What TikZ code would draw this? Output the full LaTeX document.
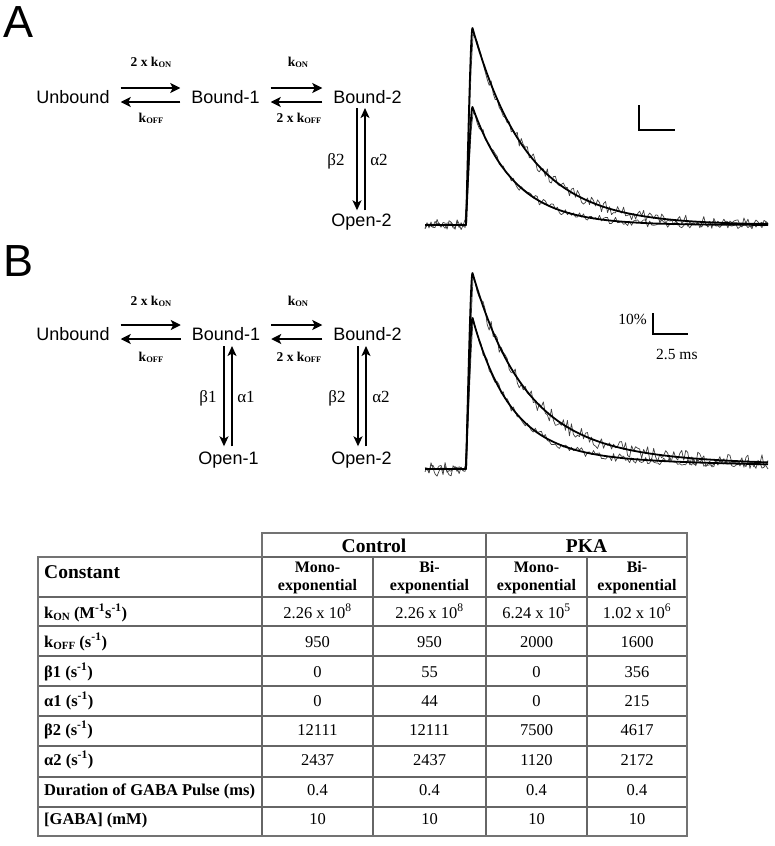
\documentclass[tikz,border=0pt]{standalone}
\usepackage{fontspec}
\setmainfont{Liberation Serif}
\newfontfamily\sansf{Liberation Sans}
\usetikzlibrary{arrows.meta,calc}
\newcommand\KsubON{k\raisebox{-1.5pt}{\fontsize{8.5}{8.5}\selectfont ON}}
\newcommand\KsubOFF{k\raisebox{-1.5pt}{\fontsize{8.5}{8.5}\selectfont OFF}}
\newcommand\TkON{k\raisebox{-2pt}{\fontsize{11}{11}\selectfont ON}}
\newcommand\TkOFF{k\raisebox{-2pt}{\fontsize{11}{11}\selectfont OFF}}
\newcommand\sinv{(s\textsuperscript{-1})}
\begin{document}
\begin{tikzpicture}[x=1pt,y=-1pt,
  declare function={
    shA(\x,\t)=ifthenelse(\x<466,0,ifthenelse(\x<472.5,(\x-466)/6.5,exp(-(\x-472.5)/\t)));
    shB(\x,\t)=ifthenelse(\x<466,0,ifthenelse(\x<472.5,(\x-466)/6.5,0.9*exp(-(\x-472.5)/\t)+0.1*exp(-(\x-472.5)/250)));
  },
  state/.style={font=\sansf\fontsize{18}{18}\selectfont,inner sep=0pt,text height=13pt,text depth=0pt,anchor=base},
  rate/.style={font=\bfseries\fontsize{13.5}{13.5}\selectfont,inner sep=0pt,anchor=base},
  greek/.style={font=\fontsize{17}{17}\selectfont,inner sep=0pt,anchor=base},
  panel/.style={font=\sansf\fontsize{45}{45}\selectfont,inner sep=0pt,anchor=base west},
  harr/.style={line width=1.8pt,-{Stealth[length=10pt,width=10pt,inset=2.5pt]},shorten <=11pt,shorten >=11pt},
  varr/.style={line width=1.4pt,-{Stealth[length=10pt,width=9pt,inset=2.5pt]}},
  fitc/.style={line width=1.8pt,line join=round},
  noisy/.style={line width=0.7pt,black!75,line join=round},
  sbar/.style={line width=1.2pt},
  tframe/.style={line width=2.6pt,draw=black!55},
  tline/.style={line width=1.1pt,draw=black!60},
  hdr/.style={font=\bfseries\fontsize{19.5}{19.5}\selectfont,inner sep=0pt,anchor=base},
  subh/.style={font=\bfseries\fontsize{16}{18}\selectfont,inner sep=0pt,align=center,anchor=center},
  rowl/.style={font=\bfseries\fontsize{16.5}{16.5}\selectfont,inner sep=0pt,anchor=base west},
  val/.style={font=\fontsize{16.5}{16.5}\selectfont,inner sep=0pt,anchor=base},
  small/.style={font=\fontsize{15.5}{15.5}\selectfont,inner sep=0pt}
]
\fill[white] (0,0) rectangle (775,846);
\useasboundingbox (0,0) rectangle (775,846);

% ---------------- Panel A scheme ----------------
\node[panel] (pA) at (3,37) {A};
\node[state] (uA) at (73,103) {Unbound};
\node[state] (b1A) at (225.5,103) {Bound-1};
\node[state] (b2A) at (367.5,103) {Bound-2};
\node[state] (o2A) at (361.5,226.5) {Open-2};

\draw[harr] ([yshift=15pt]uA.base east) -- ([yshift=15pt]b1A.base west);
\draw[harr] ([yshift=1pt]b1A.base west) -- ([yshift=1pt]uA.base east);
\draw[harr] ([yshift=15pt]b1A.base east) -- ([yshift=15pt]b2A.base west);
\draw[harr] ([yshift=1pt]b2A.base west) -- ([yshift=1pt]b1A.base east);

\node[rate] (r1A) at (151,66) {2 x \KsubON};
\node[rate] (r2A) at (151,122) {\KsubOFF};
\node[rate] (r3A) at (298,66) {\KsubON};
\node[rate] (r4A) at (299,122) {2 x \KsubOFF};

\coordinate (dA2) at ($(b2A.base)+(-10.5,5)$);
\coordinate (uA2) at ($(b2A.base)+(-2.5,5)$);
\draw[varr,shorten >=3pt] (dA2) -- (dA2 |- o2A.north);
\draw[varr,shorten <=3pt] (uA2 |- o2A.north) -- (uA2);
\node[greek] (gbA2) at (336,165) {β2};
\node[greek] (gaA2) at (379,165) {α2};

% ---------------- Panel B scheme ----------------
\node[panel] (pB) at (3,276) {B};
\node[state] (uB) at (73,340) {Unbound};
\node[state] (b1B) at (226,340) {Bound-1};
\node[state] (b2B) at (367.5,340) {Bound-2};
\node[state] (o1B) at (228.5,464.5) {Open-1};
\node[state] (o2B) at (361.5,464.5) {Open-2};

\draw[harr] ([yshift=15pt]uB.base east) -- ([yshift=15pt]b1B.base west);
\draw[harr] ([yshift=1pt]b1B.base west) -- ([yshift=1pt]uB.base east);
\draw[harr] ([yshift=15pt]b1B.base east) -- ([yshift=15pt]b2B.base west);
\draw[harr] ([yshift=1pt]b2B.base west) -- ([yshift=1pt]b1B.base east);

\node[rate] (r1B) at (151,305) {2 x \KsubON};
\node[rate] (r2B) at (151,361) {\KsubOFF};
\node[rate] (r3B) at (298,305) {\KsubON};
\node[rate] (r4B) at (299,361) {2 x \KsubOFF};

\coordinate (dB1) at ($(b1B.base)+(-2,6)$);
\coordinate (uB1) at ($(b1B.base)+(6,6)$);
\draw[varr,shorten >=5pt] (dB1) -- (dB1 |- o1B.north);
\draw[varr,shorten <=5pt] (uB1 |- o1B.north) -- (uB1);
\coordinate (dB2) at ($(b2B.base)+(-9.5,6)$);
\coordinate (uB2) at ($(b2B.base)+(-1.5,6)$);
\draw[varr,shorten >=5pt] (dB2) -- (dB2 |- o2B.north);
\draw[varr,shorten <=5pt] (uB2 |- o2B.north) -- (uB2);
\node[greek] (gbB1) at (208,402) {β1};
\node[greek] (gaB1) at (246,402) {α1};
\node[greek] (gbB2) at (337,402) {β2};
\node[greek] (gaB2) at (381,402) {α2};

% ---------------- Traces ----------------
\pgfmathsetseed{4242}
\draw[noisy] plot[domain=425:768,samples=172] (\x,{225-197*shA(\x,55)+6*rand});
\draw[noisy] plot[domain=425:768,samples=172] (\x,{225-118*shA(\x,42)+4*rand});
\draw[fitc] (425,225) -- (466,225) .. controls (469,107) and (471,28) .. (472.5,28)
  -- plot[domain=472.5:768,samples=120] (\x,{225-197*exp(-(\x-472.5)/55)});
\draw[fitc] (425,225) -- (466,225) .. controls (469,154) and (471,107) .. (472.5,107)
  -- plot[domain=472.5:768,samples=120] (\x,{225-118*exp(-(\x-472.5)/42)});
\draw[sbar] (639,105) -- (639,130) -- (675,130);

\draw[noisy] plot[domain=425:768,samples=172] (\x,{469-196*shB(\x,52)+7.5*rand});
\draw[noisy] plot[domain=425:768,samples=172] (\x,{469-151*shB(\x,38)+4*rand});
\draw[fitc] (425,469) -- (466,469) .. controls (469,351) and (471,273) .. (472.5,273)
  -- plot[domain=472.5:768,samples=120] (\x,{469-196*(0.9*exp(-(\x-472.5)/52)+0.1*exp(-(\x-472.5)/250))});
\draw[fitc] (425,469) -- (466,469) .. controls (469,378) and (471,318) .. (472.5,318)
  -- plot[domain=472.5:768,samples=120] (\x,{469-151*(0.9*exp(-(\x-472.5)/38)+0.1*exp(-(\x-472.5)/250))});
\draw[sbar] (653,313) -- (653,334) -- (688,334);
\node[small,anchor=base east] (pct) at (647,324) {10\%};
\node[small,anchor=base west] (ms) at (656,359) {2.5 ms};

% ---------------- Table ----------------
\draw[tline] (262,557) -- (687,557);
\foreach \yy in {597,626,656,686,716,746,777,807} \draw[tline] (38,\yy) -- (687,\yy);
\draw[tline] (262,557) -- (262,836);
\draw[tline] (373,557) -- (373,836);
\draw[tline] (486,533) -- (486,836);
\draw[tline] (587,557) -- (587,836);
\draw[tframe] (38,557) -- (262,557) -- (262,533) -- (687,533) -- (687,836) -- (38,836) -- cycle;

\node[hdr] (hctl) at (374,552) {Control};
\node[hdr] (hpka) at (586.5,552) {PKA};
\node[hdr,anchor=base west] (hcon) at (44,578) {Constant};
\node[subh] (s1) at (317.5,578) {Mono-\\exponential};
\node[subh] (s2) at (429.5,578) {Bi-\\exponential};
\node[subh] (s3) at (536.5,578) {Mono-\\exponential};
\node[subh] (s4) at (637,578) {Bi-\\exponential};

\node[rowl] (l1) at (44,618) {\TkON{} (M\textsuperscript{-1}s\textsuperscript{-1})};
\node[rowl] (l2) at (44,647) {\TkOFF{} \sinv};
\node[rowl] (l3) at (44,677) {β1 \sinv};
\node[rowl] (l4) at (44,706) {α1 \sinv};
\node[rowl] (l5) at (44,735) {β2 \sinv};
\node[rowl] (l6) at (44,765) {α2 \sinv};
\node[rowl] (l7) at (44,795) {Duration of GABA Pulse (ms)};
\node[rowl] (l8) at (44,824) {[GABA] (mM)};

\foreach \yy/\a/\b/\c/\d [count=\r] in {
  618/{2.26 x 10\textsuperscript{8}}/{2.26 x 10\textsuperscript{8}}/{6.24 x 10\textsuperscript{5}}/{1.02 x 10\textsuperscript{6}},
  647/950/950/2000/1600,
  677/0/55/0/356,
  706/0/44/0/215,
  735/12111/12111/7500/4617,
  765/2437/2437/1120/2172,
  795/0.4/0.4/0.4/0.4,
  824/10/10/10/10}{
  \node[val] (v\r-1) at (317.5,\yy) {\a};
  \node[val] (v\r-2) at (429.5,\yy) {\b};
  \node[val] (v\r-3) at (536.5,\yy) {\c};
  \node[val] (v\r-4) at (637,\yy) {\d};
}
\end{tikzpicture}
\end{document}
